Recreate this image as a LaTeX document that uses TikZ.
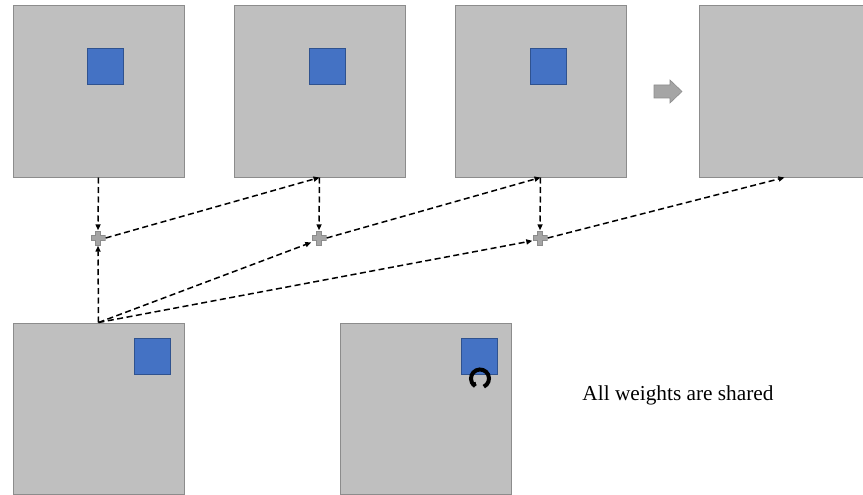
\documentclass[tikz,border=0pt]{standalone}
\usepackage{fontspec}
\setmainfont{Liberation Serif}
\usetikzlibrary{arrows.meta}
\definecolor{boxgray}{HTML}{BFBFBF}
\definecolor{boxedge}{HTML}{8C8C8C}
\definecolor{kblue}{HTML}{4472C4}
\definecolor{kedge}{HTML}{2F528F}
\definecolor{plusgray}{HTML}{A5A5A5}
\definecolor{plusedge}{HTML}{8C8C8C}
\tikzset{
  fmap/.style={draw=boxedge, fill=boxgray, line width=1pt, minimum size=171pt, inner sep=0pt},
  kernel/.style={draw=kedge, fill=kblue, line width=0.8pt, minimum size=36pt, inner sep=0pt},
  plusnode/.style={minimum size=15pt, inner sep=0pt, path picture={
    \filldraw[fill=plusgray, draw=plusedge, line width=0.6pt]
      ([shift={(-2.3pt,-6.8pt)}]path picture bounding box.center) --
      ++(4.6pt,0) -- ++(0,4.5pt) -- ++(4.5pt,0) -- ++(0,4.6pt) -- ++(-4.5pt,0) -- ++(0,4.5pt) --
      ++(-4.6pt,0) -- ++(0,-4.5pt) -- ++(-4.5pt,0) -- ++(0,-4.6pt) -- ++(4.5pt,0) -- cycle;}},
  conn/.style={line width=1.5pt, dash pattern=on 6pt off 3.5pt, -{Triangle[length=6pt,width=5pt]}},
}
\begin{document}
\begin{tikzpicture}[x=1pt,y=-1pt]
\useasboundingbox (0,0) rectangle (863,495);
\begin{scope}
\clip (0,0) rectangle (863,495);
% top feature maps
\node[fmap] (m1) at (98.5,91.5) {};
\node[fmap] (m2) at (319.5,91.5) {};
\node[fmap] (m3) at (540.5,91.5) {};
\node[fmap] (m4) at (784.5,91.5) {};
% bottom
\node[fmap] (m5) at (98.5,408.5) {};
\node[fmap] (m6) at (425.5,408.5) {};
\end{scope}
% kernels
\node[kernel] (k1) at (105,66) {};
\node[kernel] (k2) at (327,66) {};
\node[kernel] (k3) at (548,66) {};
\node[kernel] (k5) at (152,356) {};
\node[kernel] (k6) at (479,356) {};
% recurrent arrow
\draw[line width=4pt, line cap=butt] (480,378.5) ++(65:9) arc[start angle=65, end angle=-238, radius=9];
\draw[line width=2.4pt] (480,378.5) ++(122:9) -- ++(-0.8,-4);
% big arrow
\filldraw[fill=plusgray, draw=plusedge, line width=0.6pt]
  (654,85) -- (670,85) -- (670,80) -- (682,91.5) -- (670,103) -- (670,98) -- (654,98) -- cycle;
% plus nodes
\node[plusnode] (p1) at (98,238) {};
\node[plusnode] (p2) at (319,238) {};
\node[plusnode] (p3) at (540,238) {};
% connectors
\draw[conn] (m1.south) -- (p1.north);
\draw[conn] (m5.north) -- (p1.south);
\draw[conn] (p1.east) -- (m2.south);
\draw[conn] (m2.south) -- (p2.north);
\draw[conn] (m5.north) -- (p2.210);
\draw[conn] (p2.east) -- (m3.south);
\draw[conn] (m3.south) -- (p3.north);
\draw[conn] (m5.north) -- (p3.200);
\draw[conn] (p3.east) -- (m4.south);
% text
\node[font=\fontsize{21.3}{25}\selectfont, anchor=center] (t) at (678,395) {All weights are shared};
\end{tikzpicture}
\end{document}
